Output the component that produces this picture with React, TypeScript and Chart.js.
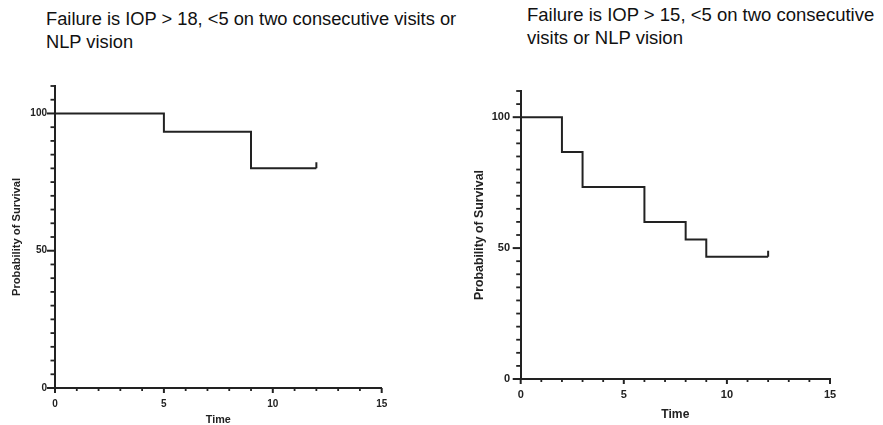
import React, { useEffect, useRef } from 'react';
import { Chart, registerables } from 'chart.js';

Chart.register(...registerables);

// ---------- data ----------
const leftTitleLines = ['Failure is IOP > 18, <5 on two consecutive visits or', 'NLP vision'];
const rightTitleLines = ['Failure is IOP > 15, <5 on two consecutive', 'visits or NLP vision'];

const leftTimes = [0, 5, 9, 12];
const leftSurvival = [100, 93.3, 80, 80];
const leftCensorTimes = [12];
const leftCensorSurvival = [80];

const rightTimes = [0, 2, 3, 6, 8, 9, 12];
const rightSurvival = [100, 86.7, 73.3, 60, 53.3, 46.7, 46.7];
const rightCensorTimes = [12];
const rightCensorSurvival = [46.7];

const xTickLabels = [0, 5, 10, 15];
const yTickLabels = [0, 50, 100];
const xAxisTitle = 'Time';
const yAxisTitle = 'Probability of Survival';
const xMin = 0;
const xMax = 15;
const xStep = 1;
const yMin = 0;
const yMax = 110;
const yStep = 5;

const INK = '#222222';
const FONT = '"Liberation Sans", Arial, Helvetica, sans-serif';

// ---------- plugin: major / minor tick marks ----------
const tickMarks = {
  id: 'tickMarks',
  afterDraw(chart: any, _args: any, opts: any) {
    const { ctx, chartArea, scales } = chart;
    ctx.save();
    ctx.strokeStyle = INK;
    ctx.lineCap = 'butt';
    const xs = scales.x;
    xs.ticks.forEach((t: any) => {
      const px = xs.getPixelForValue(t.value);
      const major = xTickLabels.includes(t.value);
      ctx.lineWidth = major ? 2 : 1.8;
      const len = major ? opts.xMajor : opts.xMinor;
      ctx.beginPath();
      ctx.moveTo(px, chartArea.bottom);
      ctx.lineTo(px, chartArea.bottom + len);
      ctx.stroke();
    });
    const ys = scales.y;
    ys.ticks.forEach((t: any) => {
      const py = ys.getPixelForValue(t.value);
      const major = yTickLabels.includes(t.value);
      ctx.lineWidth = major ? 2 : 1.8;
      const len = major ? opts.yMajor : opts.yMinor;
      ctx.beginPath();
      ctx.moveTo(chartArea.left, py);
      ctx.lineTo(chartArea.left - len, py);
      ctx.stroke();
    });
    ctx.restore();
  },
};

type Spec = {
  left: number; top: number; width: number; height: number;
  padTop: number; padRight: number; yWidth: number; xHeight: number;
  tickFont: number; yTickPad: number; xTickPad: number;
  yTitleFont: number; yTitlePad: number; xTitleFont: number; xTitlePad: number;
  yMajor: number; yMinor: number; xMajor: number; xMinor: number;
  times: number[]; survival: number[]; censorTimes: number[]; censorSurvival: number[];
};

function KMChart({ spec }: { spec: Spec }) {
  const ref = useRef<HTMLCanvasElement>(null);
  useEffect(() => {
    const curve = spec.times.map((t, i) => ({ x: t, y: spec.survival[i] }));
    const censor = spec.censorTimes.map((t, i) => ({ x: t, y: spec.censorSurvival[i] }));
    const chart = new Chart(ref.current as HTMLCanvasElement, {
      type: 'scatter',
      data: {
        datasets: [
          {
            data: curve,
            showLine: true,
            stepped: 'before',
            borderColor: INK,
            borderWidth: 2,
            pointRadius: 0,
            fill: false,
          } as any,
          {
            data: censor,
            showLine: false,
            pointStyle: 'dash',
            pointRotation: -90,
            pointRadius: 6,
            pointBorderWidth: 2,
            pointBorderColor: INK,
            pointBackgroundColor: INK,
          } as any,
        ],
      },
      options: {
        animation: false,
        responsive: false,
        devicePixelRatio: 1,
        layout: { padding: { top: spec.padTop, right: spec.padRight, left: 0, bottom: 0 } },
        plugins: {
          legend: { display: false },
          tooltip: { enabled: false },
          title: { display: false },
          tickMarks: { yMajor: spec.yMajor, yMinor: spec.yMinor, xMajor: spec.xMajor, xMinor: spec.xMinor },
        } as any,
        scales: {
          x: {
            type: 'linear',
            min: xMin,
            max: xMax,
            afterFit: (s: any) => { s.height = spec.xHeight; },
            grid: { display: true, drawOnChartArea: false, drawTicks: true, tickLength: 6, tickColor: 'rgba(0,0,0,0)' },
            border: { display: true, color: INK, width: 2 },
            ticks: {
              stepSize: xStep,
              autoSkip: false,
              maxRotation: 0,
              padding: spec.xTickPad,
              color: INK,
              font: { family: FONT, size: spec.tickFont, weight: 'bold' },
              callback: (v: any) => (xTickLabels.includes(Number(v)) ? String(v) : ''),
            },
            title: {
              display: true,
              text: xAxisTitle,
              color: INK,
              font: { family: FONT, size: spec.xTitleFont, weight: 'bold' },
              padding: { top: 0, bottom: spec.xTitlePad },
            },
          },
          y: {
            type: 'linear',
            min: yMin,
            max: yMax,
            afterFit: (s: any) => { s.width = spec.yWidth; },
            grid: { display: true, drawOnChartArea: false, drawTicks: true, tickLength: 6, tickColor: 'rgba(0,0,0,0)' },
            border: { display: true, color: INK, width: 2 },
            ticks: {
              stepSize: yStep,
              autoSkip: false,
              padding: spec.yTickPad,
              color: INK,
              font: { family: FONT, size: spec.tickFont, weight: 'bold' },
              callback: (v: any) => (yTickLabels.includes(Number(v)) ? String(v) : ''),
            },
            title: {
              display: true,
              text: yAxisTitle,
              color: INK,
              font: { family: FONT, size: spec.yTitleFont, weight: 'bold' },
              padding: { top: spec.yTitlePad, bottom: 0 },
            },
          },
        },
      } as any,
      plugins: [tickMarks as any],
    });
    return () => chart.destroy();
  }, [spec]);
  return (
    <canvas
      ref={ref}
      width={spec.width}
      height={spec.height}
      style={{ position: 'absolute', left: spec.left, top: spec.top, width: spec.width, height: spec.height }}
    />
  );
}

const leftSpec: Spec = {
  left: 0, top: 70, width: 440, height: 360,
  padTop: 16, padRight: 58.3, yWidth: 55, xHeight: 42,
  tickFont: 10, yTickPad: 2, xTickPad: 4.5,
  yTitleFont: 11.2, yTitlePad: 10.6, xTitleFont: 10.8, xTitlePad: 3,
  yMajor: 8, yMinor: 4.5, xMajor: 5, xMinor: 3,
  times: leftTimes, survival: leftSurvival, censorTimes: leftCensorTimes, censorSurvival: leftCensorSurvival,
};

const rightSpec: Spec = {
  left: 460, top: 75, width: 423, height: 350,
  padTop: 16, padRight: 53, yWidth: 60.7, xHeight: 46,
  tickFont: 11, yTickPad: 4.7, xTickPad: 3.4,
  yTitleFont: 12.3, yTitlePad: 12.6, xTitleFont: 12.1, xTitlePad: 3.4,
  yMajor: 8, yMinor: 4.5, xMajor: 5, xMinor: 3,
  times: rightTimes, survival: rightSurvival, censorTimes: rightCensorTimes, censorSurvival: rightCensorSurvival,
};

function TitleBlock({ lines, left, top, size, lh }: { lines: string[]; left: number; top: number; size: number; lh: number }) {
  return (
    <div style={{ position: 'absolute', left, top, fontFamily: FONT, fontSize: size, lineHeight: `${lh}px`, color: '#111', whiteSpace: 'nowrap' }}>
      {lines.map((l, i) => (
        <div key={i}>{l}</div>
      ))}
    </div>
  );
}

export default function App() {
  return (
    <div style={{ position: 'absolute', left: 0, top: 0, width: 883, height: 425, overflow: 'hidden', background: '#fff' }}>
      <TitleBlock lines={leftTitleLines} left={46} top={7} size={18.3} lh={23.3} />
      <TitleBlock lines={rightTitleLines} left={527} top={2.5} size={18.5} lh={23.7} />
      <KMChart spec={leftSpec} />
      <KMChart spec={rightSpec} />
    </div>
  );
}
